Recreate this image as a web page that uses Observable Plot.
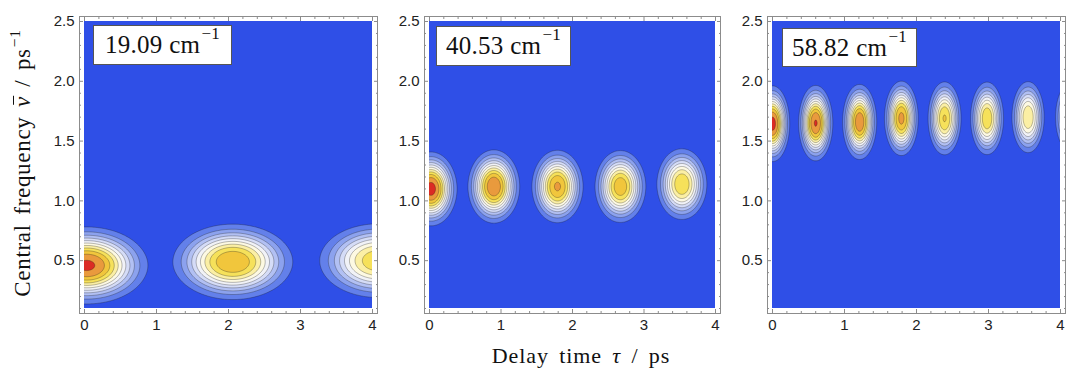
<!DOCTYPE html>
<html>
<head>
<meta charset="utf-8">
<script src="https://cdn.jsdelivr.net/npm/d3@7"></script>
<script src="https://cdn.jsdelivr.net/npm/@observablehq/plot@0.6"></script>
<style>
  body { margin: 0; background: #fff; }
  #fig { position: relative; width: 1066px; height: 369px; overflow: hidden; background: #fff; color: #111; font-family: "Liberation Serif", serif; }
  .panel { position: absolute; top: 0; }
  .box { position: absolute; background: #fff; border: 1px solid #555; box-sizing: border-box; display: flex; align-items: center; justify-content: center; font-size: 25px; white-space: nowrap; letter-spacing: 0.3px; }
  .sup { font-size: 0.68em; position: relative; top: -0.62em; margin-left: 1px; }
  .lab { position: absolute; white-space: nowrap; font-size: 22px; }
  .nubar { font-style: italic; position: relative; display: inline-block; }
  .nubar::before { content: ""; position: absolute; left: 2px; right: 0px; top: 0.12em; border-top: 1.2px solid #111; }
</style>
</head>
<body>
<div id="fig"></div>
<script>
// ---------------- data ----------------
const panelLabels = ["19.09", "40.53", "58.82"];           // cm^-1

// panel 1 (19.09 cm^-1): blob centres, peak heights
const tauCenters1  = [0.03, 2.06, 4.08];
const freqCenters1 = [0.46, 0.49, 0.50];
const amplitudes1  = [0.95, 0.84, 0.74];

// panel 2 (40.53 cm^-1)
const tauCenters2  = [0.02, 0.90, 1.79, 2.67, 3.53, 4.40];
const freqCenters2 = [1.10, 1.12, 1.12, 1.12, 1.14, 1.08];
const amplitudes2  = [0.965, 0.92, 0.86, 0.82, 0.75, 0.70];

// panel 3 (58.82 cm^-1)
const tauCenters3  = [0.00, 0.60, 1.21, 1.79, 2.39, 2.98, 3.55, 4.15];
const freqCenters3 = [1.645, 1.65, 1.66, 1.69, 1.69, 1.69, 1.70, 1.70];
const amplitudes3  = [0.965, 0.94, 0.915, 0.87, 0.77, 0.75, 0.67, 0.60];

// blob widths (tau, freq) and profile flatness per panel
const tauWidths  = [0.42, 0.18, 0.118];
const freqWidths = [0.16, 0.153, 0.157];
const flatness   = [1.25, 1.25, 1.25];

// contour levels and band colours (TemperatureMap-like)
const levels = [0, 0.085, 0.17, 0.255, 0.34, 0.425, 0.51, 0.595, 0.68, 0.765, 0.85, 0.935];
const bandColors = ["#2f4fe7", "#6380ea", "#8ca2ee", "#b2c0f3", "#d5dcf7", "#f1f2f7",
                    "#fdf9e2", "#fbefa4", "#f6e15a", "#f1c63c", "#e99a3d", "#db2b24"];

// axis ticks
const xMajor = [0, 1, 2, 3, 4];
const xMinor = [0.2, 0.4, 0.6, 0.8, 1.2, 1.4, 1.6, 1.8, 2.2, 2.4, 2.6, 2.8, 3.2, 3.4, 3.6, 3.8];
const yMajor = [0.5, 1.0, 1.5, 2.0, 2.5];
const yMinor = [0.1, 0.2, 0.3, 0.4, 0.6, 0.7, 0.8, 0.9, 1.1, 1.2, 1.3, 1.4, 1.6, 1.7, 1.8, 1.9, 2.1, 2.2, 2.3, 2.4];

// ---------------- drawing ----------------
const blobs = [
  {tau: tauCenters1, freq: freqCenters1, amp: amplitudes1},
  {tau: tauCenters2, freq: freqCenters2, amp: amplitudes2},
  {tau: tauCenters3, freq: freqCenters3, amp: amplitudes3}
];

function field(i) {
  const {tau, freq, amp} = blobs[i];
  const sx = tauWidths[i], sy = freqWidths[i], p = flatness[i];
  return (x, y) => {
    let v = 0;
    for (let k = 0; k < tau.length; k++) {
      const u = (x - tau[k]) ** 2 / (2 * sx * sx) + (y - freq[k]) ** 2 / (2 * sy * sy);
      v += amp[k] * Math.exp(-Math.pow(u, p));
    }
    return v;
  };
}

const layout = [
  {left: 0,   marginLeft: 84, plotW: 288, marginRight: 10, box: {x: 93, y: 25, w: 139, h: 40}},
  {left: 385, marginLeft: 44, plotW: 286, marginRight: 10, box: {x: 436, y: 26, w: 135, h: 40}},
  {left: 728, marginLeft: 44, plotW: 288, marginRight: 6,  box: {x: 782, y: 28, w: 135, h: 39}}
];
const H = 340, marginTop = 21, plotH = 287;
const frameColor = "#8c8c8c";

const fig = document.getElementById("fig");

layout.forEach((L, i) => {
  const svg = Plot.plot({
    width: L.marginLeft + L.plotW + L.marginRight,
    height: H,
    marginLeft: L.marginLeft,
    marginRight: L.marginRight,
    marginTop: marginTop,
    marginBottom: H - marginTop - plotH,
    x: {domain: [0, 4]},
    y: {domain: [0.1, 2.5]},
    color: {type: "ordinal", domain: levels, range: bandColors},
    style: {fontFamily: "'Liberation Sans', Arial, sans-serif", fontSize: "15px", color: "#222", background: "transparent", overflow: "visible"},
    marks: [
      Plot.contour({
        fill: field(i),
        x1: -0.4, x2: 4.4, y1: -0.1, y2: 2.7,
        thresholds: levels,
        pixelSize: 1,
        stroke: "#1a1a1a", strokeOpacity: 0.5, strokeWidth: 0.6,
        clip: true
      }),
      Plot.frame({inset: -5, stroke: frameColor}),
      // inward frame ticks
      Plot.axisX(xMajor, {anchor: "bottom", tickSize: 4, dy: 1, fill: "none", stroke: frameColor, label: null}),
      Plot.axisX(xMinor, {anchor: "bottom", tickSize: 2, dy: 3, fill: "none", stroke: frameColor, label: null}),
      Plot.axisX(xMajor, {anchor: "top", tickSize: 4, dy: -1, fill: "none", stroke: frameColor, label: null}),
      Plot.axisX(xMinor, {anchor: "top", tickSize: 2, dy: -3, fill: "none", stroke: frameColor, label: null}),
      Plot.axisY(yMajor, {anchor: "left", tickSize: 4, dx: -1, fill: "none", stroke: frameColor, label: null}),
      Plot.axisY(yMinor, {anchor: "left", tickSize: 2, dx: -3, fill: "none", stroke: frameColor, label: null}),
      Plot.axisY(yMajor, {anchor: "right", tickSize: 4, dx: 1, fill: "none", stroke: frameColor, label: null}),
      Plot.axisY(yMinor, {anchor: "right", tickSize: 2, dx: 3, fill: "none", stroke: frameColor, label: null}),
      // tick labels
      Plot.axisX(xMajor, {anchor: "bottom", tickSize: 0, tickPadding: 11, tickFormat: d => String(d), label: null}),
      Plot.axisY(yMajor, {anchor: "left", tickSize: 0, tickPadding: 10, tickFormat: d3.format(".1f"), label: null})
    ]
  });
  svg.classList.add("panel");
  svg.style.left = L.left + "px";
  fig.appendChild(svg);

  const box = document.createElement("div");
  box.className = "box";
  box.style.left = L.box.x + "px";
  box.style.top = L.box.y + "px";
  box.style.width = L.box.w + "px";
  box.style.height = L.box.h + "px";
  box.innerHTML = `${panelLabels[i]}&nbsp;cm<span class="sup">−1</span>`;
  fig.appendChild(box);
});

// axis titles
const ylab = document.createElement("div");
ylab.className = "lab";
ylab.style.left = "23px";
ylab.style.top = "163px";
ylab.style.fontSize = "23px";
ylab.style.transform = "translate(-50%, -50%) rotate(-90deg)";
ylab.style.letterSpacing = "0.7px";
ylab.style.wordSpacing = "3px";
ylab.innerHTML = `Central frequency <span class="nubar">ν</span> / ps<span class="sup">−1</span>`;
fig.appendChild(ylab);

const xlab = document.createElement("div");
xlab.className = "lab";
xlab.style.left = "581px";
xlab.style.top = "356px";
xlab.style.transform = "translate(-50%, -50%)";
xlab.style.letterSpacing = "0.9px";
xlab.style.wordSpacing = "4px";
xlab.innerHTML = `Delay time <i>τ</i> / ps`;
fig.appendChild(xlab);
</script>
</body>
</html>
